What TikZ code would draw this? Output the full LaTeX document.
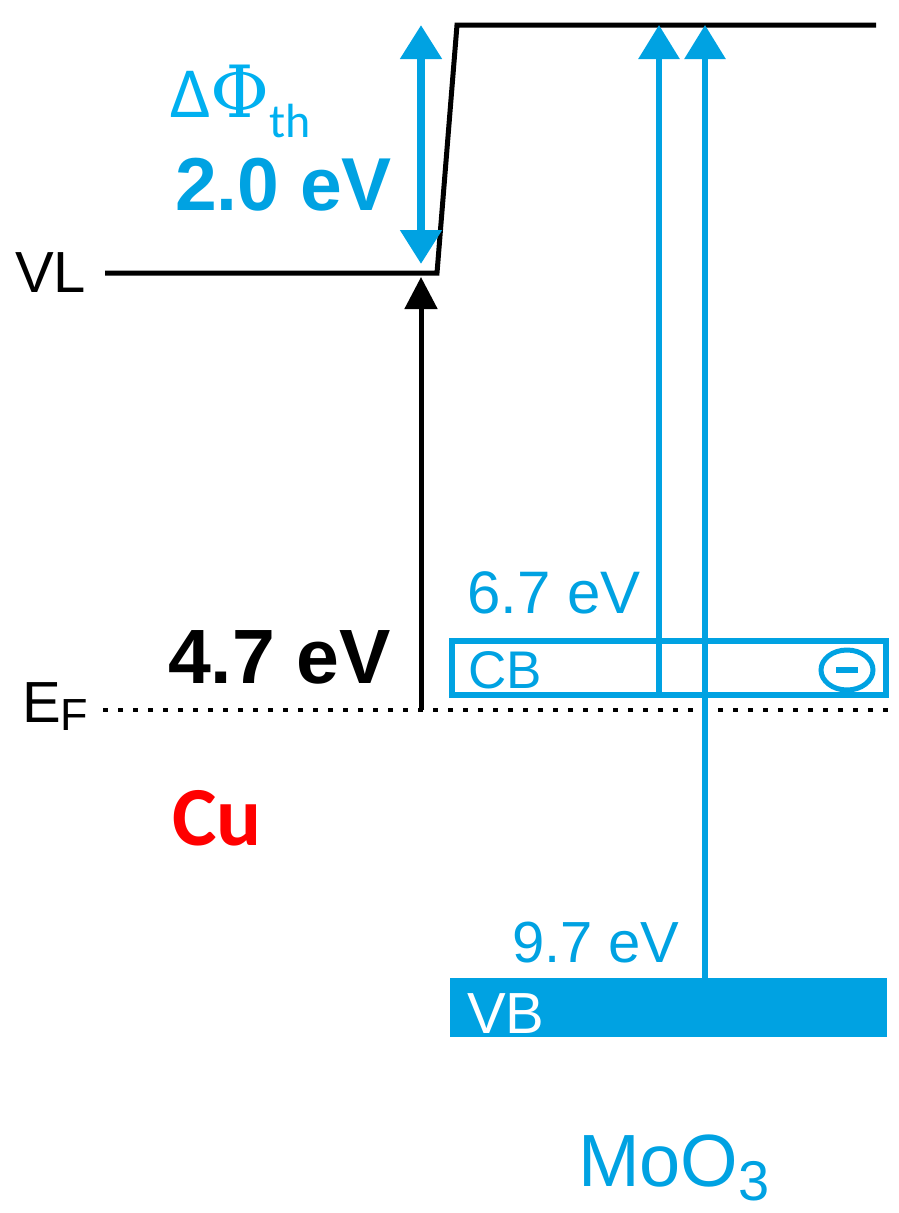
\documentclass[tikz,border=0pt]{standalone}
\usepackage{fontspec}
\setmainfont{Liberation Sans}
\newfontfamily\calfont{Carlito}
\newfontfamily\phifont{DejaVu Serif}
\usetikzlibrary{arrows.meta,shapes.geometric}
\definecolor{mblue}{RGB}{0,162,226}
\definecolor{lblue}{RGB}{0,176,240}
\definecolor{cured}{RGB}{255,0,0}
\tikzset{
  lbl/.style={inner sep=0pt, outer sep=0pt, anchor=base west},
  levelline/.style={line width=5pt, black, line join=miter},
  bluearrow/.style={mblue, line width=6pt, -{Triangle[width=40pt,length=34pt]}},
  bluedouble/.style={mblue, line width=8pt, {Triangle[width=40pt,length=34pt]}-{Triangle[width=40pt,length=34pt]}},
  blackarrow/.style={black, line width=5pt, -{Triangle[width=32pt,length=32pt]}},
  fermi/.style={black, line width=4.5pt, dash pattern=on 5pt off 10pt},
}
\begin{document}
\begin{tikzpicture}[x=1pt,y=-1pt]
\useasboundingbox (0,0) rectangle (898,1213);

% vacuum level
\coordinate (vlL) at (105,273);
\coordinate (vlR) at (437,273);
\coordinate (topL) at (457,25);
\coordinate (topR) at (876,25);
\draw[levelline] (vlL) -- (vlR) -- (topL) -- (topR);

% Fermi level
\coordinate (efL) at (103,710);
\coordinate (efR) at (890,710);
\draw[fermi] (efL) -- (efR);

% black arrow 4.7 eV
\coordinate (bkS) at (421,710);
\coordinate (bkE) at (421,277);
\draw[blackarrow] (bkS) -- (bkE);

% blue double arrow
\coordinate (dbS) at (421,264);
\coordinate (dbE) at (421,25);
\draw[bluedouble] (dbS) -- (dbE);

% CB box
\node[draw=mblue, line width=6pt, minimum width=434pt, minimum height=54pt, inner sep=0pt, outer sep=0pt] (cb) at (669,668) {};
\node[draw=mblue, line width=5pt, ellipse, minimum width=52pt, minimum height=40pt, inner sep=0pt] (minus) at (847,670) {};
\draw[mblue, line width=6pt] ([xshift=-11pt]minus.center) -- ([xshift=11pt]minus.center);

% VB box
\node[fill=mblue, minimum width=437pt, minimum height=59pt, inner sep=0pt, outer sep=0pt] (vb) at (668.5,1007.5) {};

% blue arrows
\coordinate (a1e) at (659,25);
\coordinate (a2e) at (705,25);
\draw[bluearrow] (cb.south -| a1e) -- (a1e);
\draw[bluearrow] (vb.north -| a2e) -- (a2e);

% labels
\node[lbl, font=\fontsize{58}{58}\selectfont] (vl) at (15,292) {VL};
\node[lbl, font=\fontsize{58}{58}\selectfont] (ef) at (22,722) {E\raisebox{-8pt}{\fontsize{45}{45}\selectfont F}};
\node[lbl, font=\fontsize{77}{77}\selectfont\bfseries] (w47) at (168,683) {4.7 eV};
\node[lbl, text=cured, font=\calfont\fontsize{84}{84}\selectfont\bfseries] (cu) at (172,845) {Cu};
\node[lbl, text=lblue, font=\calfont\fontsize{72}{72}\selectfont] (dphi) at (170,117) {Δ{\phifont\fontsize{72}{72}\selectfont Φ}\raisebox{-20pt}{\fontsize{48}{48}\selectfont th}};
\node[lbl, text=mblue, font=\fontsize{75}{75}\selectfont\bfseries] (w20) at (175,210) {2.0 eV};
\node[lbl, text=mblue, font=\fontsize{60}{60}\selectfont] (w67) at (467,613) {6.7 eV};
\node[lbl, text=mblue, font=\fontsize{53}{53}\selectfont] (cbl) at (468,688) {CB};
\node[lbl, text=mblue, font=\fontsize{58}{58}\selectfont] (w97) at (512,962) {9.7 eV};
\node[lbl, text=white, font=\fontsize{58}{58}\selectfont] (vbl) at (467,1033) {VB};
\node[lbl, text=mblue, font=\fontsize{74}{74}\selectfont] (moo) at (578,1186) {MoO\raisebox{-14pt}{\fontsize{56}{56}\selectfont 3}};
\end{tikzpicture}
\end{document}
